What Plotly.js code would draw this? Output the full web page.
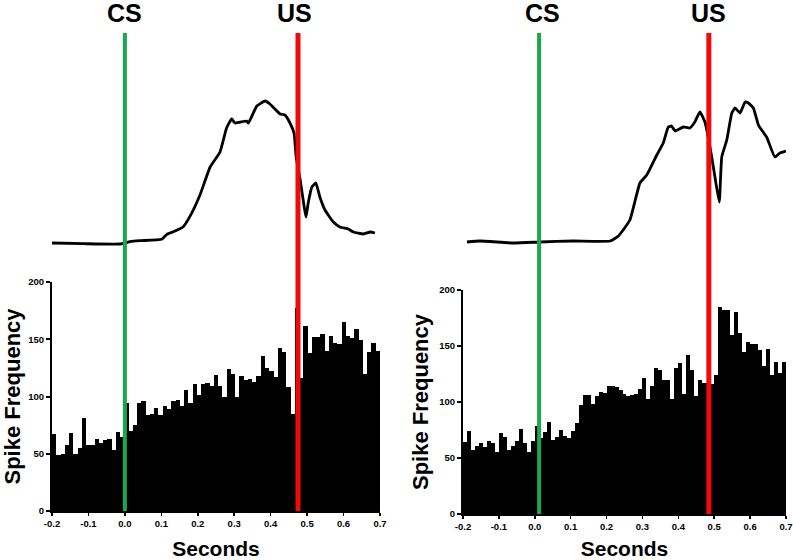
<!DOCTYPE html>
<html>
<head>
<meta charset="utf-8">
<script src="https://cdn.plot.ly/plotly-3.0.1.min.js"></script>
<style>html,body{margin:0;padding:0;background:#fff;}#chart{width:793px;height:560px;}</style>
</head>
<body>
<div id="chart"></div>
<script>
// ---------- DATA ----------
// Left panel: spike histogram (Spike Frequency per bin, -0.2 .. 0.7 s)
const leftCounts = [67,49,50,58,68,50,55,81,58,58,63,59,62,63,53,69,65,
  94,70,75,94,96,84,85,90,84,92,89,96,97,92,106,94,111,101,111,112,109,119,109,100,124,120,100,118,114,115,113,118,135,125,122,117,142,139,108,85,
  177,116,162,138,152,152,155,140,153,147,146,165,153,151,159,149,120,139,147,140];
// Right panel: spike histogram
const rightCounts = [64,74,57,61,63,60,65,63,55,72,69,57,61,65,76,63,55,65,
  79,68,73,82,66,69,75,70,68,74,81,97,106,106,98,105,109,108,114,114,113,111,107,105,106,107,112,121,103,114,130,129,120,120,103,130,135,107,142,129,105,120,117,117,
  116,124,185,182,182,160,180,162,145,154,152,152,146,132,147,124,136,126,136];
// Upper behavioural traces (time in s, amplitude in arbitrary units)
const leftTraceT = [-0.2,-0.114,-0.013,0.014,0.041,0.101,0.115,0.133,0.160,0.183,0.206,0.234,0.261,0.279,0.293,0.302,0.334,0.339,0.362,0.385,0.398,0.426,0.439,0.453,0.464,0.470,0.481,0.492,0.497,0.503,0.513,0.524,0.535,0.549,0.572,0.590,0.613,0.627,0.654,0.673,0.686];
const leftTraceA = [0,-0.7,-1,1.3,2.3,3.7,8.7,11.3,16.3,29.7,48,76,91,115,124,120,122,120,137,142,139,129,128,120,110,86,63,36,26,40,56,60,46,33,21,16,14,11,9,11,10];
const rightTraceT = [-0.189,-0.153,-0.060,0.015,0.107,0.210,0.233,0.265,0.293,0.312,0.340,0.358,0.372,0.381,0.391,0.414,0.432,0.446,0.460,0.474,0.481,0.493,0.502,0.514,0.521,0.535,0.549,0.558,0.572,0.586,0.595,0.609,0.623,0.632,0.646,0.669,0.683,0.700];
const rightTraceA = [0,1,-1,0,1,1,6,22,59,67,87,99,115,116,111,115,114,120,130,120,109,85,65,40,85,102,129,134,129,140,139,134,117,112,105,85,89,91];
// Stimulus onset times (s)
const leftCS = 0.0, leftUS = 0.475;
const rightCS = 0.012, rightUS = 0.485;
const eventLabels = ['CS', 'US'];
// Tick labels
const xTickVals = [-0.2,-0.1,0,0.1,0.2,0.3,0.4,0.5,0.6,0.7];
const xTickText = ['-0.2','-0.1','0.0','0.1','0.2','0.3','0.4','0.5','0.6','0.7'];
const yTickVals = [0,50,100,150,200];
const yTickText = ['0','50','100','150','200'];
const xTitle = 'Seconds';
const yTitle = 'Spike Frequency';

// ---------- BUILD ----------
const W = 793, H = 560;
const X0 = -0.2, X1 = 0.7;
function bins(counts){
  const w = (X1 - X0) / counts.length;
  return {x: counts.map((_, i) => X0 + (i + 0.5) * w), w: w};
}
const lb = bins(leftCounts), rb = bins(rightCounts);
const FONT = 'Arial, "Liberation Sans", Helvetica, sans-serif';

const traces = [
  {type:'bar', x: lb.x, y: leftCounts, width: lb.w, xaxis:'x', yaxis:'y',
   marker:{color:'#000', line:{width:0}}, hoverinfo:'x+y'},
  {type:'bar', x: rb.x, y: rightCounts, width: rb.w, xaxis:'x2', yaxis:'y2',
   marker:{color:'#000', line:{width:0}}, hoverinfo:'x+y'},
  {type:'scatter', mode:'lines', x: leftTraceT, y: leftTraceA, xaxis:'x3', yaxis:'y3',
   line:{color:'#000', width:2.8, shape:'spline', smoothing:0.4}},
  {type:'scatter', mode:'lines', x: rightTraceT, y: rightTraceA, xaxis:'x4', yaxis:'y4',
   line:{color:'#000', width:2.8, shape:'spline', smoothing:0.4}}
];

const px = v => v / W;
const py = v => 1 - v / H;

function xAxis(dom){
  return {domain: dom, range:[X0, X1], tickvals: xTickVals, ticktext: xTickText,
    showline:true, linecolor:'#000', linewidth:2, ticks:'outside', ticklen:3, tickwidth:1.5, tickcolor:'#000',
    showgrid:false, zeroline:false, fixedrange:true, ticklabeloverflow:'allow',
    tickfont:{family:FONT, size:9.5, color:'#000', weight:'bold'},
    title:{text: xTitle, font:{family:FONT, size:21, color:'#000', weight:'bold'}, standoff:15}};
}
function yAxis(dom){
  return {domain: dom, range:[0, 200], tickvals: yTickVals, ticktext: yTickText,
    showline:true, linecolor:'#000', linewidth:2, ticks:'outside', ticklen:4, tickwidth:2, tickcolor:'#000',
    showgrid:false, zeroline:false, fixedrange:true, ticklabeloverflow:'allow',
    tickfont:{family:FONT, size:9.5, color:'#000', weight:'bold'},
    title:{text: yTitle, font:{family:FONT, size:22, color:'#000', weight:'bold'}, standoff:5}};
}
function hidden(dom, range){
  return {domain: dom, range: range, visible:false, fixedrange:true};
}

const lX = [px(52), px(380)], rX = [px(463), px(786)];
const evFont = {family:FONT, size:25, color:'#000', weight:'bold'};
const layout = {
  width: W, height: H,
  margin:{l:0, r:0, t:0, b:0},
  paper_bgcolor:'#fff', plot_bgcolor:'rgba(0,0,0,0)',
  showlegend:false, bargap:0,
  xaxis: xAxis(lX), yaxis: yAxis([py(511), py(282)]),
  xaxis2: Object.assign(xAxis(rX), {anchor:'y2'}),
  yaxis2: Object.assign(yAxis([py(514), py(290)]), {anchor:'x2'}),
  xaxis3: Object.assign(hidden(lX, [X0, X1]), {anchor:'y3'}),
  yaxis3: Object.assign(hidden([py(250), py(93)], [-7, 150]), {anchor:'x3'}),
  xaxis4: Object.assign(hidden(rX, [X0, X1]), {anchor:'y4'}),
  yaxis4: Object.assign(hidden([py(250), py(93)], [-8, 149]), {anchor:'x4'}),
  shapes: [
    {type:'line', xref:'x', yref:'paper', x0:leftCS, x1:leftCS, y0:py(511), y1:py(33), line:{color:'#1aa84f', width:4}},
    {type:'line', xref:'x', yref:'paper', x0:leftUS, x1:leftUS, y0:py(511), y1:py(33), line:{color:'#f00a0a', width:5}},
    {type:'line', xref:'x2', yref:'paper', x0:rightCS, x1:rightCS, y0:py(514), y1:py(33), line:{color:'#1aa84f', width:4}},
    {type:'line', xref:'x2', yref:'paper', x0:rightUS, x1:rightUS, y0:py(514), y1:py(33), line:{color:'#f00a0a', width:5}}
  ],
  annotations: [
    {xref:'x', yref:'paper', x:leftCS, y:py(13), text:eventLabels[0], showarrow:false, yanchor:'middle', font:evFont},
    {xref:'x', yref:'paper', x:leftUS - 0.01, y:py(13), text:eventLabels[1], showarrow:false, yanchor:'middle', font:evFont},
    {xref:'x2', yref:'paper', x:rightCS + 0.01, y:py(13), text:eventLabels[0], showarrow:false, yanchor:'middle', font:evFont},
    {xref:'x2', yref:'paper', x:rightUS, y:py(13), text:eventLabels[1], showarrow:false, yanchor:'middle', font:evFont}
  ]
};

Plotly.newPlot('chart', traces, layout, {displayModeBar:false, staticPlot:true});
</script>
</body>
</html>
